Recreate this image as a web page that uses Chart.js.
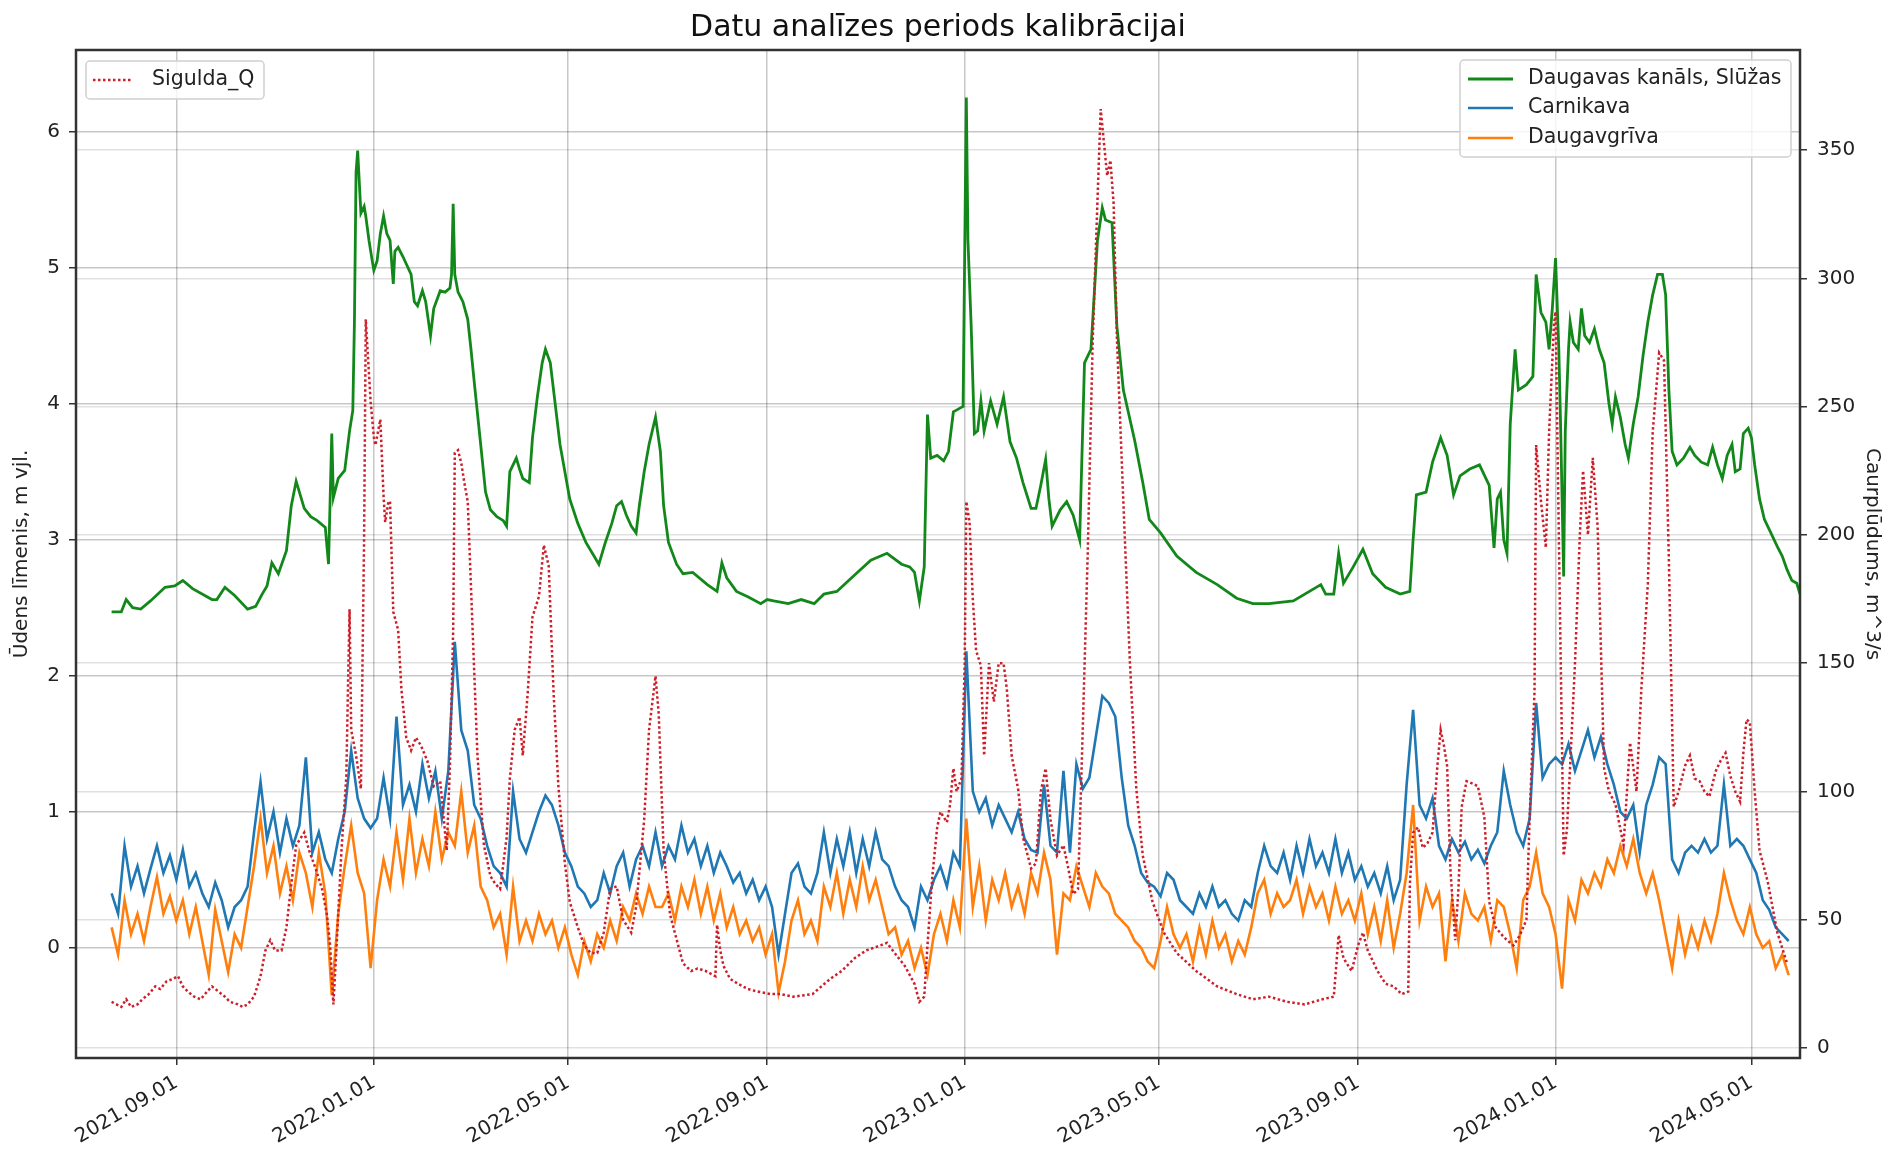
<!DOCTYPE html>
<html>
<head>
<meta charset="utf-8">
<title>Datu analīzes periods kalibrācijai</title>
<script src="https://cdn.jsdelivr.net/npm/chart.js@4.4.1/dist/chart.umd.min.js"></script>
<style>
  html, body { margin: 0; padding: 0; background: #fff; }
  #wrap { width: 1885px; height: 1149px; }
</style>
</head>
<body>
<div id="wrap"><canvas id="mycanvas" width="1885" height="1149"></canvas></div>
<script>
/* days are counted from the first measurement date */
var seriesStart = '2021-07-23';
var stepDays = 4;
var axisFrom = '2021-07-01';
var axisTo = '2024-05-31';
var tickDates = ['2021-09-01', '2022-01-01', '2022-05-01', '2022-09-01', '2023-01-01',
                 '2023-05-01', '2023-09-01', '2024-01-01', '2024-05-01'];
var levelTicks = [0, 1, 2, 3, 4, 5, 6];
var flowTicks = [0, 50, 100, 150, 200, 250, 300, 350];

/* Daugavas kanāls, Slūžas: [day, m] */
var slucas = [
  [0,2.47],[6,2.47],[9,2.56],[13,2.50],[18,2.49],[24,2.55],[33,2.65],[39,2.66],[44,2.70],[50,2.64],
  [62,2.56],[65,2.56],[70,2.65],[76,2.59],[84,2.49],[89,2.51],[93,2.60],[96,2.66],[99,2.83],[103,2.75],
  [108,2.92],[111,3.25],[114,3.43],[119,3.23],[123,3.17],[127,3.14],[132,3.09],[134,2.82],[136,3.78],[137,3.31],
  [140,3.45],[144,3.51],[147,3.80],[149,3.95],[150,4.60],[151,5.70],[152,5.86],[154,5.40],[156,5.45],[157,5.38],
  [159,5.20],[161,5.05],[162,4.98],[164,5.05],[166,5.25],[168,5.38],[170,5.25],[172,5.20],[174,4.88],[175,5.12],
  [177,5.15],[180,5.08],[185,4.95],[187,4.75],[189,4.72],[192,4.83],[194,4.75],[197,4.50],[199,4.70],[203,4.83],
  [206,4.82],[209,4.85],[210,4.95],[211,5.47],[212,4.95],[214,4.82],[217,4.75],[220,4.62],[222,4.40],[224,4.16],
  [228,3.70],[231,3.35],[234,3.22],[238,3.17],[242,3.14],[244,3.10],[246,3.50],[250,3.60],[252,3.52],[254,3.45],
  [258,3.42],[260,3.75],[263,4.05],[266,4.30],[268,4.40],[271,4.30],[274,4.00],[277,3.70],[280,3.50],[283,3.30],
  [288,3.12],[293,2.98],[298,2.88],[301,2.82],[305,2.98],[309,3.12],[312,3.25],[315,3.28],[318,3.18],[321,3.10],
  [324,3.05],[326,3.25],[329,3.50],[332,3.70],[336,3.90],[339,3.65],[341,3.25],[344,2.98],[349,2.82],[353,2.75],
  [359,2.76],[368,2.67],[374,2.62],[377,2.83],[380,2.72],[386,2.62],[393,2.58],[401,2.53],[405,2.56],[409,2.55],
  [418,2.53],[426,2.56],[434,2.53],[440,2.60],[448,2.62],[459,2.74],[469,2.85],[479,2.90],[488,2.82],[493,2.80],
  [496,2.76],[499,2.55],[502,2.80],[504,3.92],[506,3.60],[510,3.62],[514,3.58],[517,3.65],[520,3.94],[523,3.96],
  [526,3.98],[528,6.25],[529,5.20],[531,4.57],[533,3.78],[535,3.80],[537,4.02],[539,3.80],[543,4.02],[547,3.85],
  [551,4.05],[555,3.72],[559,3.60],[563,3.42],[568,3.23],[571,3.23],[574,3.40],[577,3.59],[579,3.30],[581,3.10],
  [586,3.22],[590,3.28],[594,3.18],[598,3.00],[601,4.30],[605,4.40],[609,5.20],[612,5.44],[614,5.35],[618,5.33],
  [621,4.57],[625,4.10],[632,3.73],[637,3.42],[641,3.15],[648,3.05],[658,2.88],[670,2.76],[683,2.67],[695,2.57],
  [705,2.53],[715,2.53],[730,2.55],[747,2.67],[750,2.60],[755,2.60],[758,2.90],[761,2.68],[767,2.80],[773,2.93],
  [779,2.75],[787,2.65],[796,2.60],[802,2.62],[804,3.00],[806,3.33],[812,3.35],[816,3.57],[821,3.75],[825,3.62],
  [829,3.33],[833,3.47],[839,3.52],[845,3.55],[851,3.40],[854,2.94],[856,3.30],[858,3.35],[860,3.00],[862,2.90],
  [864,3.85],[867,4.40],[869,4.10],[874,4.14],[878,4.20],[880,4.95],[883,4.67],[886,4.60],[888,4.40],[890,4.70],
  [892,5.07],[894,4.40],[895,3.90],[897,2.73],[898,3.80],[900,4.40],[901,4.60],[903,4.45],[906,4.40],[908,4.70],
  [910,4.50],[913,4.45],[916,4.55],[919,4.40],[922,4.30],[925,4.00],[927,3.85],[929,4.05],[932,3.90],[935,3.70],
  [937,3.60],[940,3.85],[943,4.05],[946,4.35],[949,4.60],[952,4.80],[955,4.95],[958,4.95],[960,4.80],[962,4.10],
  [964,3.65],[967,3.55],[971,3.60],[975,3.68],[978,3.62],[982,3.57],[986,3.55],[989,3.68],[992,3.55],[995,3.45],
  [998,3.62],[1001,3.70],[1003,3.50],[1006,3.52],[1008,3.78],[1011,3.82],[1013,3.75],[1015,3.55],[1018,3.30],[1021,3.15],
  [1025,3.05],[1029,2.95],[1032,2.88],[1035,2.78],[1038,2.70],[1041,2.68],[1043,2.60]
];

/* Carnikava, m, every stepDays from seriesStart */
var carnikava = [
  .40,.25,.75,.45,.60,.40,.58,.75,.55,.68,
  .50,.72,.45,.55,.40,.30,.48,.35,.15,.30,
  .35,.45,.85,1.22,.80,1.00,.70,.95,.75,.90,
  1.40,.70,.85,.65,.55,.80,1.00,1.45,1.10,.95,
  .88,.95,1.25,.95,1.70,1.05,1.20,1.00,1.35,1.10,
  1.30,.95,1.30,2.25,1.60,1.45,1.05,.95,.75,.60,
  .55,.45,1.15,.80,.70,.85,1.00,1.12,1.05,.90,
  .70,.60,.45,.40,.30,.35,.55,.40,.60,.70,
  .45,.65,.75,.60,.85,.60,.75,.65,.90,.70,
  .80,.60,.75,.55,.70,.60,.48,.55,.40,.50,
  .35,.45,.30,-.05,.25,.55,.62,.45,.40,.55,
  .85,.55,.80,.60,.85,.55,.80,.60,.85,.65,
  .60,.45,.35,.30,.15,.45,.35,.50,.60,.45,
  .70,.60,2.18,1.15,1.00,1.10,.90,1.05,.95,.85,
  1.00,.80,.72,.70,1.20,.75,.70,1.30,.70,1.35,
  1.17,1.25,1.55,1.85,1.80,1.70,1.25,.90,.75,.55,
  .48,.45,.38,.55,.50,.35,.30,.25,.40,.30,
  .45,.30,.35,.25,.20,.35,.30,.55,.75,.60,
  .55,.70,.50,.75,.55,.80,.60,.70,.55,.80,
  .55,.70,.50,.60,.45,.55,.40,.60,.35,.50,
  1.20,1.75,1.05,.95,1.10,.75,.65,.80,.70,.78,
  .65,.72,.62,.75,.85,1.30,1.05,.85,.75,.95,
  1.80,1.25,1.35,1.40,1.35,1.50,1.30,1.45,1.60,1.40,
  1.55,1.35,1.20,1.00,.95,1.05,.70,1.05,1.20,1.40,
  1.35,.65,.55,.70,.75,.70,.80,.70,.75,1.20,
  .75,.80,.75,.65,.55,.35,.28,.15,.10,.05
];

/* Daugavgrīva, m, every stepDays from seriesStart */
var daugavgriva = [
  .15,-.05,.35,.10,.25,.05,.30,.52,.25,.38,
  .20,.35,.10,.30,.05,-.20,.28,.05,-.18,.10,
  .00,.30,.60,.95,.55,.75,.40,.60,.35,.70,
  .55,.30,.70,.40,-.35,.25,.60,.90,.55,.40,
  -.15,.35,.65,.45,.85,.50,.95,.55,.80,.60,
  1.00,.65,.85,.75,1.15,.70,.90,.45,.35,.15,
  .25,-.05,.45,.05,.20,.05,.25,.10,.20,.00,
  .15,-.05,-.20,.05,-.10,.10,.00,.20,.05,.30,
  .20,.40,.25,.45,.30,.30,.40,.20,.45,.30,
  .50,.25,.45,.20,.40,.15,.30,.10,.20,.05,
  .15,-.05,.10,-.33,-.10,.20,.35,.10,.20,.05,
  .45,.30,.55,.25,.50,.30,.60,.35,.50,.30,
  .10,.15,-.05,.05,-.15,.00,-.20,.10,.25,.05,
  .35,.15,.95,.30,.60,.20,.50,.35,.55,.30,
  .45,.25,.55,.40,.70,.50,-.05,.40,.35,.60,
  .45,.30,.55,.45,.40,.25,.20,.15,.05,.00,
  -.10,-.15,.05,.30,.10,.00,.10,-.10,.15,-.05,
  .20,.00,.10,-.10,.05,-.05,.15,.40,.50,.25,
  .40,.30,.35,.50,.25,.45,.30,.40,.20,.45,
  .25,.35,.20,.40,.10,.30,.05,.35,.00,.25,
  .55,1.05,.20,.45,.30,.40,-.10,.35,.05,.40,
  .25,.20,.30,.05,.35,.30,.10,-.15,.35,.45,
  .70,.40,.30,.10,-.30,.35,.20,.50,.40,.55,
  .45,.65,.55,.75,.60,.80,.55,.40,.55,.35,
  .10,-.15,.20,-.05,.15,.00,.20,.05,.25,.55,
  .35,.20,.10,.30,.10,.00,.05,-.15,-.05,-.20
];

/* Sigulda_Q: [day, m3/s] */
var sigulda = [
  [0,18],[3,17],[6,16],[9,19],[12,16],[16,17],[19,19],[23,21],[27,24],[30,23],
  [34,26],[38,27],[41,28],[44,24],[47,22],[51,20],[55,19],[59,22],[62,24],[66,22],
  [70,20],[73,18],[78,17],[81,16],[84,17],[88,20],[92,28],[95,38],[98,42],[101,38],
  [105,38],[108,47],[111,64],[114,79],[117,82],[119,84],[122,77],[126,70],[130,62],[133,52],
  [135,40],[137,17],[139,40],[142,77],[145,106],[146,140],[147,171],[148,124],[151,114],[154,101],
  [156,200],[157,284],[160,252],[162,238],[163,235],[166,245],[168,215],[169,205],[171,213],[172,213],
  [174,170],[177,163],[179,140],[182,121],[185,116],[188,121],[191,118],[195,112],[199,102],[203,104],
  [207,77],[209,110],[211,163],[212,232],[214,233],[216,228],[218,220],[220,213],[223,163],[226,114],
  [230,79],[234,67],[237,64],[240,62],[244,82],[246,105],[249,124],[252,129],[254,114],[257,138],
  [260,168],[264,176],[267,196],[270,188],[273,139],[276,102],[280,72],[283,57],[288,47],[292,40],
  [296,37],[300,37],[304,45],[308,62],[312,63],[316,50],[321,45],[324,55],[329,89],[332,124],
  [336,145],[338,130],[341,77],[345,52],[350,40],[353,33],[358,30],[362,31],[367,30],[370,29],
  [373,28],[374,48],[376,38],[378,32],[382,27],[387,25],[393,23],[399,22],[407,21],[413,21],
  [421,20],[433,21],[444,27],[451,30],[459,35],[466,38],[475,40],[479,41],[485,36],[490,32],
  [496,25],[499,18],[502,20],[504,40],[507,67],[510,86],[512,92],[516,88],[518,95],[520,109],
  [522,100],[525,105],[527,150],[528,213],[530,205],[532,175],[534,155],[537,149],[539,114],[542,150],
  [545,135],[548,150],[551,150],[553,140],[556,114],[560,101],[563,82],[568,70],[571,72],[574,100],
  [577,109],[580,89],[584,75],[588,79],[591,70],[594,60],[597,62],[600,126],[603,193],[606,274],
  [609,330],[611,366],[613,353],[615,340],[617,346],[619,329],[621,277],[625,213],[629,151],[633,101],
  [637,75],[643,57],[650,45],[658,37],[670,30],[683,24],[695,21],[705,19],[715,20],[726,18],
  [737,17],[748,19],[755,20],[758,44],[761,35],[766,30],[770,40],[773,45],[776,38],[782,30],
  [787,25],[792,24],[797,21],[801,22],[802,64],[804,84],[807,86],[810,78],[813,80],[816,84],
  [819,110],[821,124],[823,118],[825,110],[827,70],[830,42],[832,62],[834,94],[837,104],[841,103],
  [844,102],[848,90],[851,57],[855,47],[859,44],[862,42],[866,40],[870,44],[874,50],[876,90],
  [879,139],[880,235],[883,213],[886,195],[888,240],[891,282],[892,287],[894,200],[897,75],[899,85],
  [901,110],[904,150],[907,200],[909,225],[912,200],[915,230],[918,203],[922,109],[925,100],[929,95],
  [934,79],[938,119],[942,100],[945,140],[949,181],[952,240],[956,271],[959,268],[962,190],[965,94],
  [968,100],[972,110],[975,114],[978,105],[981,104],[984,100],[987,98],[991,108],[994,112],[997,115],
  [1000,106],[1003,100],[1006,96],[1008,115],[1010,128],[1012,127],[1015,100],[1018,77],[1023,65],[1026,55],
  [1029,45],[1034,35],[1035,33]
];

function dayOf(s) {
  var p = s.split('-');
  var b = seriesStart.split('-');
  return (Date.UTC(+p[0], p[1] - 1, +p[2]) - Date.UTC(+b[0], b[1] - 1, +b[2])) / 86400000;
}
function pairs(arr) {
  return arr.map(function (d) { return { x: d[0], y: d[1] }; });
}
function regular(arr) {
  return arr.map(function (v, i) { return { x: i * stepDays, y: v }; });
}

var tickLabel = {};
tickDates.forEach(function (s) { tickLabel[dayOf(s)] = s.replace(/-/g, '.'); });

Chart.defaults.font.family = "'DejaVu Sans', sans-serif";
Chart.defaults.color = '#222';

/* two legend boxes, frame and title, drawn over the chart */
var decor = {
  id: 'decor',
  afterDraw: function (chart) {
    var ctx = chart.ctx, a = chart.chartArea, ds = chart.data.datasets;
    ctx.save();
    ctx.strokeStyle = '#333';
    ctx.lineWidth = 2.5;
    ctx.strokeRect(a.left, a.top, a.right - a.left, a.bottom - a.top);

    ctx.fillStyle = '#111';
    ctx.font = '30px "DejaVu Sans"';
    ctx.textAlign = 'center';
    ctx.textBaseline = 'middle';
    ctx.fillText('Datu analīzes periods kalibrācijai', (a.left + a.right) / 2, 28);

    function box(x, y, w, h, items, lineFrom, lineTo, textX, rowY) {
      ctx.beginPath();
      ctx.roundRect(x, y, w, h, 4);
      ctx.fillStyle = 'rgba(255,255,255,0.8)';
      ctx.fill();
      ctx.strokeStyle = '#d0d0d0';
      ctx.lineWidth = 1.5;
      ctx.stroke();
      items.forEach(function (d, k) {
        var yy = rowY[k];
        ctx.beginPath();
        ctx.setLineDash(d.borderDash || []);
        ctx.strokeStyle = d.borderColor;
        ctx.lineWidth = d.borderWidth;
        ctx.moveTo(lineFrom, yy);
        ctx.lineTo(lineTo, yy);
        ctx.stroke();
        ctx.setLineDash([]);
        ctx.fillStyle = '#222';
        ctx.font = '20.5px "DejaVu Sans"';
        ctx.textAlign = 'left';
        ctx.textBaseline = 'middle';
        ctx.fillText(d.label, textX, yy);
      });
    }
    box(86, 61, 178, 38, [ds[3]], 93, 133, 152, [80]);
    box(1460, 60, 331, 97, [ds[0], ds[1], ds[2]], 1468, 1513, 1528, [79, 108, 138]);
    ctx.restore();
  }
};

var ctx = document.getElementById('mycanvas');
var chart = new Chart(ctx, {
  type: 'line',
  data: {
    datasets: [
      { label: 'Daugavas kanāls, Slūžas', data: pairs(slucas), yAxisID: 'y',
        borderColor: '#13881a', borderWidth: 2.8, order: 3 },
      { label: 'Carnikava', data: regular(carnikava), yAxisID: 'y',
        borderColor: '#1f77b4', borderWidth: 2.6, order: 2 },
      { label: 'Daugavgrīva', data: regular(daugavgriva), yAxisID: 'y',
        borderColor: '#ff7f0e', borderWidth: 2.6, order: 1 },
      { label: 'Sigulda_Q', data: pairs(sigulda), yAxisID: 'y1',
        borderColor: '#cc1f2a', borderWidth: 2.5, borderDash: [2.5, 2.5], order: 0 }
    ]
  },
  options: {
    responsive: false,
    animation: false,
    devicePixelRatio: 1,
    events: [],
    layout: { padding: { top: 50, left: 0, right: 0, bottom: 0 } },
    elements: { point: { radius: 0 }, line: { tension: 0 } },
    plugins: { legend: { display: false }, title: { display: false }, tooltip: { enabled: false } },
    scales: {
      x: {
        type: 'linear',
        min: dayOf(axisFrom),
        max: dayOf(axisTo),
        afterBuildTicks: function (s) { s.ticks = tickDates.map(function (d) { return { value: dayOf(d) }; }); },
        afterFit: function (s) { s.height = 91; },
        ticks: {
          autoSkip: false, maxRotation: 30, minRotation: 30, padding: 6,
          font: { size: 20 },
          callback: function (v) { return tickLabel[v]; }
        },
        grid: { color: 'rgba(0,0,0,0.22)', lineWidth: 1.5, tickLength: 7, tickColor: '#333', tickWidth: 1.5 },
        border: { display: false }
      },
      y: {
        position: 'left',
        min: -0.81,
        max: 6.6,
        afterBuildTicks: function (s) { s.ticks = levelTicks.map(function (v) { return { value: v }; }); },
        afterFit: function (s) { s.width = 76; },
        ticks: { padding: 9, font: { size: 20 } },
        grid: { color: 'rgba(0,0,0,0.22)', lineWidth: 1.5, tickLength: 7, tickColor: '#333', tickWidth: 1.5 },
        border: { display: false },
        title: { display: true, text: 'Ūdens līmenis, m vjl.', font: { size: 20 }, padding: { top: 10, bottom: 0 } }
      },
      y1: {
        position: 'right',
        min: -3.9,
        max: 389,
        afterBuildTicks: function (s) { s.ticks = flowTicks.map(function (v) { return { value: v }; }); },
        afterFit: function (s) { s.width = 85; },
        ticks: { padding: 10, font: { size: 20 } },
        grid: { color: 'rgba(0,0,0,0.12)', lineWidth: 1.5, tickLength: 7, tickColor: '#333', tickWidth: 1.5 },
        border: { display: false },
        title: { display: true, text: 'Caurplūdums, m^3/s', font: { size: 20 }, padding: { top: 1, bottom: 0 } }
      }
    }
  },
  plugins: [decor]
});
</script>
</body>
</html>
